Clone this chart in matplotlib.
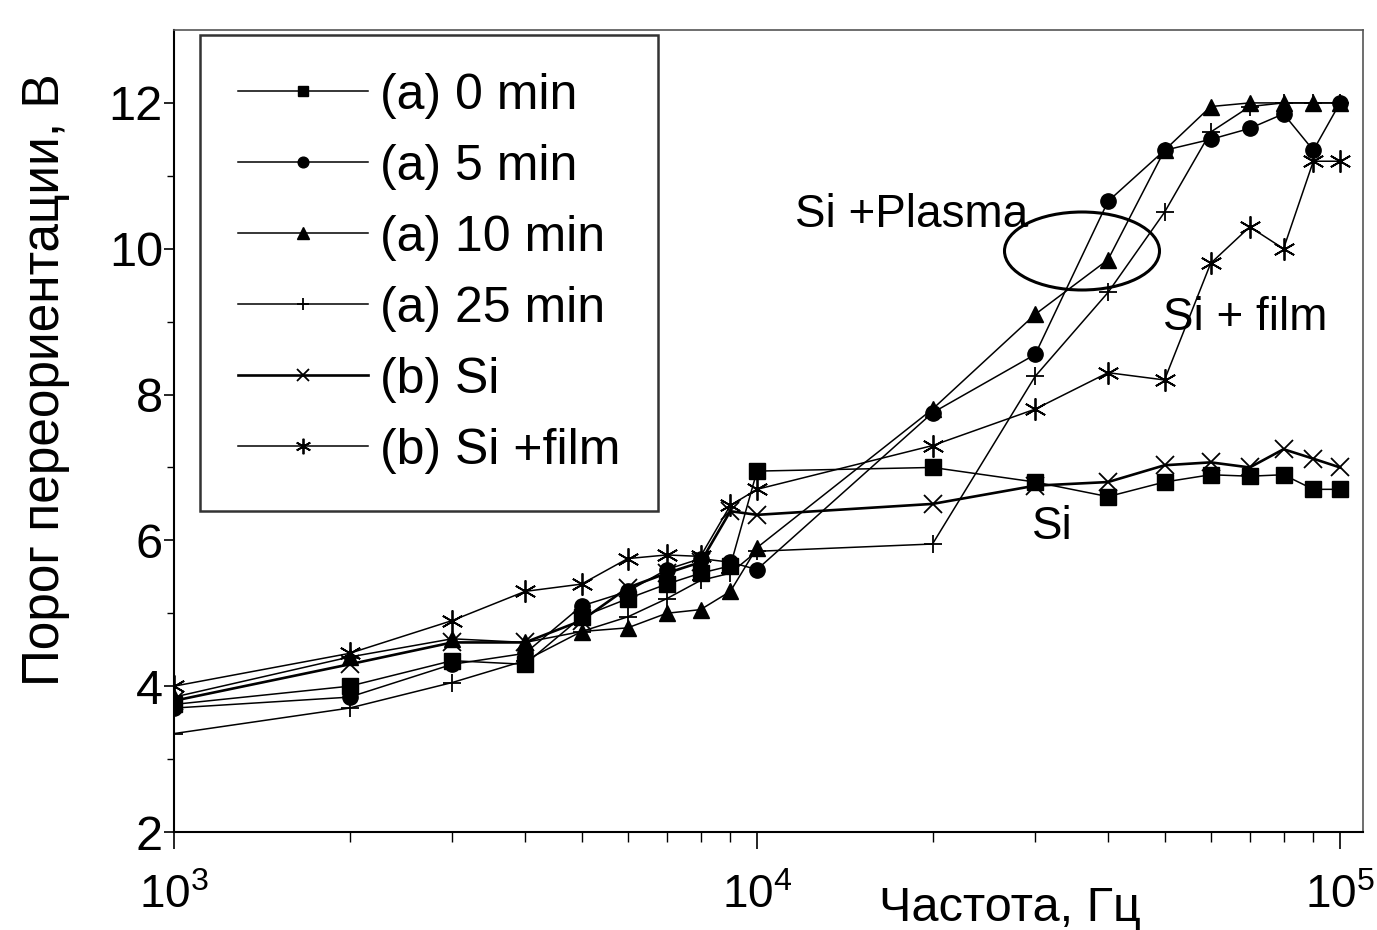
import matplotlib
matplotlib.use("Agg")
import matplotlib.pyplot as plt
from matplotlib.patches import Ellipse

plt.rcParams['font.family'] = ['Liberation Sans', 'DejaVu Sans']

freq = [1e3, 2e3, 3e3, 4e3, 5e3, 6e3, 7e3, 8e3, 9e3, 1e4,
        2e4, 3e4, 4e4, 5e4, 6e4, 7e4, 8e4, 9e4, 1e5]

a_0min = [3.75, 4.0, 4.35, 4.3, 4.95, 5.2, 5.4, 5.55, 5.65, 6.95,
          7.0, 6.8, 6.6, 6.8, 6.9, 6.88, 6.9, 6.7, 6.7]
a_5min = [3.7, 3.85, 4.3, 4.45, 5.1, 5.3, 5.6, 5.75, 5.7, 5.6,
          7.75, 8.55, 10.65, 11.35, 11.5, 11.65, 11.85, 11.35, 12.0]
a_10min = [3.85, 4.4, 4.65, 4.6, 4.75, 4.8, 5.0, 5.05, 5.3, 5.9,
           7.8, 9.1, 9.85, 11.35, 11.95, 12.0, 12.0, 12.0, 12.0]
a_25min = [3.35, 3.7, 4.05, 4.35, 4.75, 4.95, 5.2, 5.45, 5.55, 5.85,
           5.95, 8.25, 9.4, 10.5, 11.6, 11.95, 12.0, 12.0, 12.0]
b_si = [3.8, 4.3, 4.6, 4.6, 4.9, 5.35, 5.55, 5.7, 6.4, 6.35,
        6.5, 6.75, 6.8, 7.03, 7.07, 7.0, 7.25, 7.12, 7.0]
b_si_film = [4.0, 4.45, 4.9, 5.3, 5.4, 5.75, 5.8, 5.78, 6.48, 6.7,
             7.3, 7.8, 8.3, 8.2, 9.8, 10.3, 10.0, 11.2, 11.2]

labels = ["(a) 0 min", "(a) 5 min", "(a) 10 min", "(a) 25 min", "(b) Si", "(b) Si +film"]

W, H = 1377, 930
fig = plt.figure(figsize=(W / 100, H / 100), dpi=100)
AX_L, AX_R, AX_T, AX_B = 174, 1363, 30, 832
AW, AH = AX_R - AX_L, AX_B - AX_T
ax = fig.add_axes([AX_L / W, 1 - AX_B / H, AW / W, AH / H])


def fx(px):
    return (px - AX_L) / AW


def fy(py):
    return (AX_B - py) / AH


series = [
    (a_0min, dict(marker='s', ms=11, lw=1.1)),
    (a_5min, dict(marker='o', ms=11, lw=1.1)),
    (a_10min, dict(marker='^', ms=12, lw=1.1)),
    (a_25min, dict(marker='+', ms=13, mew=1.3, lw=1.1)),
    (b_si, dict(marker='x', ms=13, mew=1.3, lw=1.9)),
    (b_si_film, dict(marker=(6, 2, 0), ms=16, mew=1.3, lw=1.1)),
]
for (vals, st), lab in zip(series, labels):
    ax.plot(freq, vals, color='black', label=lab, **st)

ax.set_xscale('log')
ax.set_xlim(1e3, 1.095e5)
ax.set_ylim(2, 13)
ax.set_yticks([2, 4, 6, 8, 10, 12])
ax.set_yticks([3, 5, 7, 9, 11], minor=True)
ax.tick_params(axis='y', which='major', direction='out', length=7, width=1.2,
               labelsize=35, pad=1)
ax.tick_params(axis='y', which='minor', direction='out', length=5, width=1.0)
ax.tick_params(axis='x', which='major', direction='out', length=12, width=1.2,
               labelsize=33, pad=18)
ax.tick_params(axis='x', which='minor', direction='out', length=7, width=1.0,
               labelbottom=False)
for s in ['left', 'bottom']:
    ax.spines[s].set_linewidth(1.5)
for s in ['top', 'right']:
    ax.spines[s].set_linewidth(1.2)
    ax.spines[s].set_color('#555555')

ax.set_ylabel("Порог переориентации, В", fontsize=37)
ax.yaxis.set_label_coords(fx(70), fy(380))
ax.set_xlabel("Частота, Гц", fontsize=35, va='center')
ax.xaxis.set_label_coords(fx(1010), fy(908))

leg = ax.legend(loc='upper left', bbox_to_anchor=(fx(200), fy(35)),
                fontsize=36, frameon=True, fancybox=False, edgecolor='black',
                handlelength=2.6, handletextpad=0.26, labelspacing=0.5,
                borderpad=0.75, borderaxespad=0.0, markerscale=0.7)
leg.get_frame().set_linewidth(1.8)

ax.text(fx(912), fy(215), "Si +Plasma", transform=ax.transAxes, fontsize=33,
        ha='center', va='center')
ax.add_patch(Ellipse((fx(1082), fy(251)), 155 / AW, 78 / AH, transform=ax.transAxes,
                     fill=False, lw=2.2, color='black'))
ax.text(fx(1245), fy(318), "Si + film", transform=ax.transAxes,
        fontsize=33, ha='center', va='center')
ax.text(fx(1052), fy(527), "Si", transform=ax.transAxes,
        fontsize=33, ha='center', va='center')

fig.savefig("out.png", dpi=100, facecolor='white')
